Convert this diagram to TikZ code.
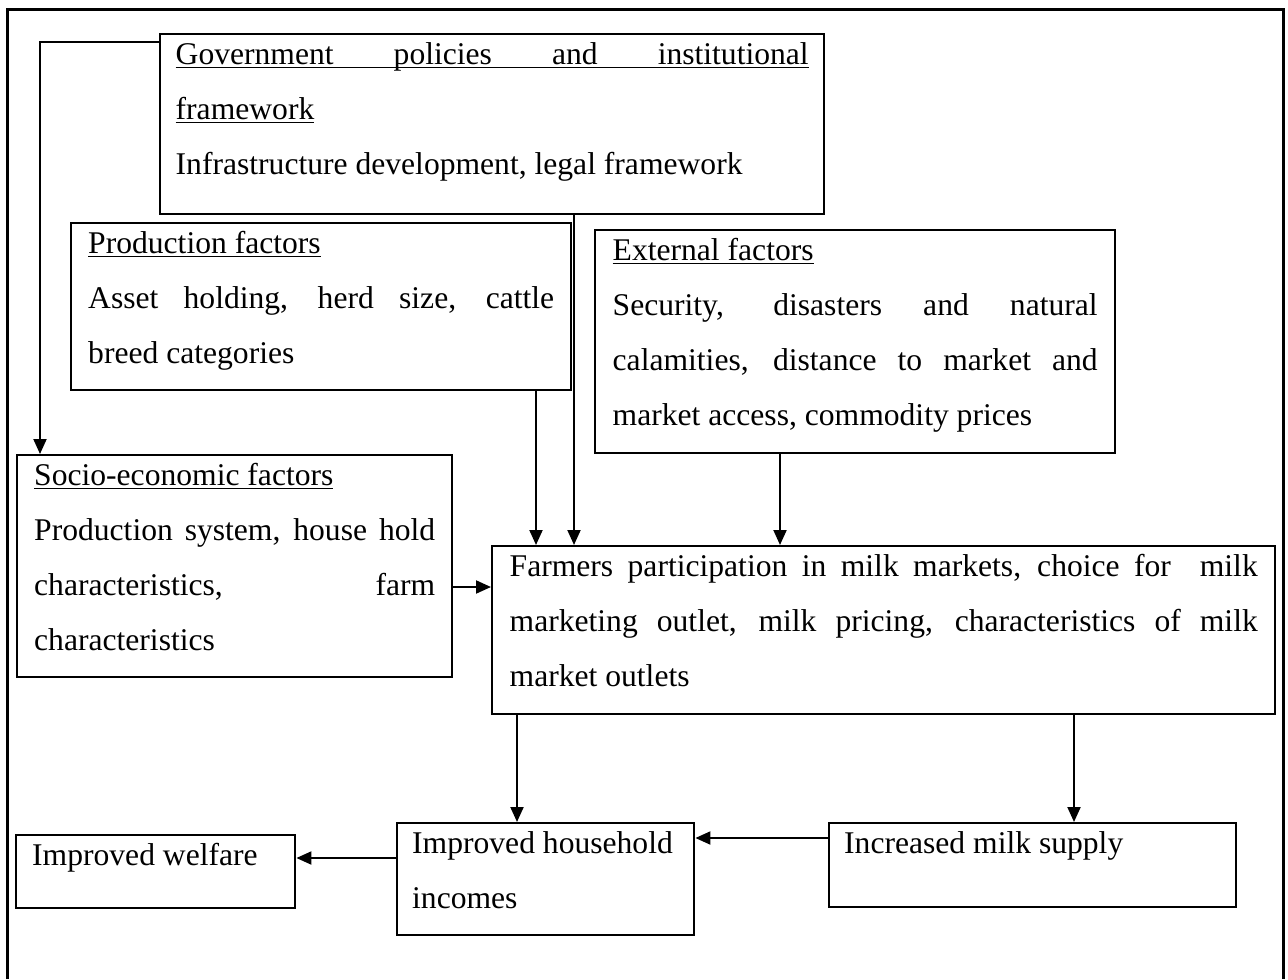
\documentclass[tikz,border=0pt]{standalone}
\usepackage{fontspec}
\setmainfont{Liberation Serif}
\usepackage{tikz}
\usetikzlibrary{arrows.meta,positioning,calc}
% underline that runs through the descenders
\newcommand{\ulhead}[1]{\setbox0\hbox{#1}\rlap{\rule[-2pt]{\wd0}{0.8pt}}\box0}
\hyphenpenalty=10000
\tolerance=10000

\begin{document}
\begin{tikzpicture}[x=0.5pt,y=-0.5pt,>={Triangle[length=7.5pt,width=6.5pt]}]
  % Styles
  \tikzset{
    box/.style={draw,line width=1.2pt,anchor=north west,inner sep=0pt,text height=15pt,
      font=\fontsize{15.8pt}{27.5pt}\selectfont},
    jbox/.style={box,align=justify},
    lbox/.style={box,align=flush left},
    link/.style={->,line width=1pt}
  }
  \useasboundingbox (0,0) rectangle (1288,979);

  %================= FRAME =================
  \draw[line width=1.5pt] (7,979) -- (7,10) -- (1283,10) -- (1283,979);

  %================= FACTORS =================
  \node[jbox,text width=316.5pt,minimum width=332pt,text depth=75pt] (gov) at (159,33)
    {\ulhead{\hbox to 316.5pt{Government\hfill policies\hfill and\hfill institutional}}\\
     \ulhead{framework}\\
     Infrastructure development, legal framework};
  \node[jbox,text width=233pt,minimum width=250pt,text depth=68.5pt] (prod) at (70,222)
    {\ulhead{Production factors}\\
     Asset holding, herd size, cattle\linebreak breed categories};
  \node[jbox,text width=242.5pt,minimum width=260pt,text depth=96.5pt] (ext) at (594,229)
    {\ulhead{External factors}\\
     Security, disasters and natural\linebreak calamities, distance to market and\linebreak market access, commodity prices};
  \node[jbox,text width=200.5pt,minimum width=217.5pt,text depth=96pt] (socio) at (16,454)
    {\ulhead{Socio-economic factors}\\
     Production system, house hold\linebreak characteristics, farm\linebreak characteristics};

  %================= PARTICIPATION =================
  \node[jbox,text width=374pt,minimum width=391.5pt,text depth=69pt] (farm) at (491,545)
    {Farmers participation in milk markets, choice for~ milk\linebreak marketing outlet, milk pricing, characteristics of milk\linebreak market outlets};

  %================= OUTCOMES =================
  \node[lbox,text width=123.5pt,minimum width=139.5pt,text depth=21.5pt] (welfare) at (15,834)
    {Improved welfare};
  \node[lbox,text width=133.5pt,minimum width=148.5pt,text depth=41pt] (income) at (396,822)
    {Improved household incomes};
  \node[lbox,text width=188.5pt,minimum width=203.5pt,text depth=27pt] (supply) at (828,822)
    {Increased milk supply};

  % Points where the arrows leave the boxes
  \coordinate (gx) at ($(gov.south west)+(415,0)$);
  \coordinate (px) at ($(prod.south west)+(466,0)$);
  \coordinate (ex) at ($(ext.south west)+(186,0)$);
  \coordinate (fl) at ($(farm.south west)+(26,0)$);
  \coordinate (fr) at ($(farm.south west)+(583,0)$);
  \coordinate (sx) at ($(socio.north east)+(0,133)$);
  \coordinate (mx) at ($(supply.north west)+(0,16)$);
  \coordinate (ix) at ($(income.north west)+(0,36)$);

  % Arrows
  \draw[link] ($(gov.north west)+(0,9)$) -| ($(socio.north west)+(24,0)$);
  \draw[link] (gx) -- (gx |- farm.north);
  \draw[link] (px) -- (px |- farm.north);
  \draw[link] (ex) -- (ex |- farm.north);
  \draw[link] (sx) -- (sx -| farm.west);
  \draw[link] (fl) -- (fl |- income.north);
  \draw[link] (fr) -- (fr |- supply.north);
  \draw[link] (mx) -- (mx -| income.east);
  \draw[link] (ix) -- (ix -| welfare.east);

\end{tikzpicture}
\end{document}
